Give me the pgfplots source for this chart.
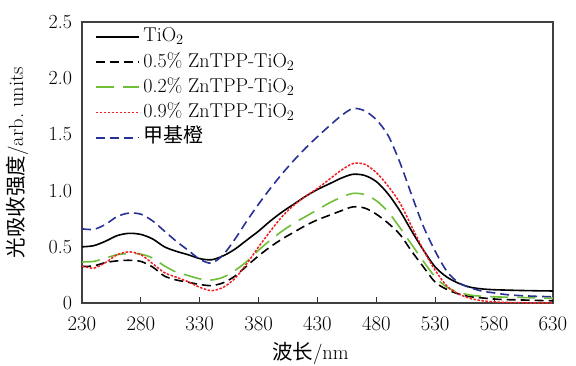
\documentclass[border=0pt]{standalone}
\usepackage{pgfplots}
\pgfplotsset{compat=1.18}
\usepackage{fontspec}
\newfontfamily\cjk{Noto Sans CJK SC}
\definecolor{cgreen}{RGB}{110,190,55}
\definecolor{cred}{RGB}{240,30,35}
\definecolor{cblue}{RGB}{40,50,150}
\begin{document}
\begin{tikzpicture}
\useasboundingbox (-82pt,-62pt) rectangle (494pt,303pt);
\begin{axis}[
  at={(0pt,0pt)}, anchor=south west,
  scale only axis, width=471pt, height=281pt,
  xmin=230, xmax=630, ymin=0, ymax=2.5,
  xtick={230,280,...,630},
  ytick={0,0.5,1,1.5,2,2.5},
  yticklabels={0,0.5,1.0,1.5,2.0,2.5},
  xtick pos=left, ytick pos=left,
  tick align=inside, major tick length=6pt,
  ytick style={draw=none},
  xtick style={black!80, line width=0.9pt},
  axis line style={black!75, line width=1.3pt},
  tick label style={font=\fontsize{20}{22}\selectfont},
  xticklabel style={yshift=-11pt},
  yticklabel style={xshift=-6.5pt},
  xlabel={{\cjk 波长}/nm},
  ylabel={{\cjk 光吸收强度}/arb.\ units},
  label style={font=\fontsize{20.5}{24}\selectfont},
  xlabel style={at={(axis description cs:0.485,-0.178)}, anchor=center},
  ylabel style={at={(axis description cs:-0.138,0.5)}, anchor=center},
  legend style={draw=none, fill=none, inner sep=0pt, at={(axis description cs:0,1)},
    anchor=north west, xshift=12.7pt, yshift=-2.0pt,
    font=\fontsize{20}{24}\selectfont, row sep=0pt,
    nodes={text height=14.3pt, text depth=4.3pt, inner sep=3.3pt}},
  legend cell align=left,
  legend image code/.code={\draw[#1, line width=1.8pt] (0pt,0pt) -- (40pt,0pt); \path (0pt,0pt) -- (43.5pt,0pt);},
]
\addplot[black, line width=1.6pt, smooth] coordinates {
(230,0.50)(240,0.51)(250,0.55)(260,0.60)(270,0.62)(280,0.61)(290,0.57)(300,0.50)(310,0.46)(320,0.43)(330,0.395)(340,0.385)(350,0.42)(360,0.48)(370,0.56)(380,0.64)(390,0.73)(400,0.81)(410,0.88)(420,0.95)(430,1.01)(440,1.06)(450,1.11)(460,1.145)(470,1.135)(480,1.08)(490,0.97)(500,0.82)(510,0.64)(520,0.47)(530,0.32)(540,0.23)(550,0.175)(560,0.14)(570,0.125)(580,0.118)(590,0.115)(600,0.112)(610,0.11)(620,0.108)(630,0.107)};
\addlegendentry{TiO$_2$}
\addplot[black, line width=1.6pt, dash pattern=on 9pt off 5pt, smooth] coordinates {
(230,0.325)(240,0.33)(250,0.36)(260,0.375)(270,0.38)(280,0.37)(290,0.32)(300,0.24)(310,0.205)(320,0.185)(330,0.165)(340,0.155)(350,0.18)(360,0.24)(370,0.33)(380,0.42)(390,0.50)(400,0.57)(410,0.63)(420,0.69)(430,0.74)(440,0.78)(450,0.82)(460,0.855)(470,0.845)(480,0.79)(490,0.71)(500,0.61)(510,0.46)(520,0.32)(530,0.185)(540,0.12)(550,0.08)(560,0.056)(570,0.045)(580,0.035)(590,0.03)(600,0.028)(610,0.025)(620,0.022)(630,0.02)};
\addlegendentry{0.5\% ZnTPP-TiO$_2$}
\addplot[cgreen, line width=1.6pt, dash pattern=on 18pt off 9pt, smooth] coordinates {
(230,0.365)(240,0.37)(250,0.40)(260,0.43)(270,0.44)(280,0.435)(290,0.40)(300,0.33)(310,0.275)(320,0.245)(330,0.215)(340,0.205)(350,0.23)(360,0.29)(370,0.37)(380,0.47)(390,0.56)(400,0.64)(410,0.71)(420,0.77)(430,0.83)(440,0.89)(450,0.94)(460,0.975)(470,0.965)(480,0.91)(490,0.81)(500,0.67)(510,0.52)(520,0.37)(530,0.23)(540,0.14)(550,0.095)(560,0.07)(570,0.06)(580,0.055)(590,0.052)(600,0.05)(610,0.047)(620,0.044)(630,0.042)};
\addlegendentry{0.2\% ZnTPP-TiO$_2$}
\addplot[cred, line width=1.5pt, dash pattern=on 2.5pt off 1.5pt, smooth] coordinates {
(230,0.33)(240,0.31)(250,0.36)(260,0.43)(270,0.455)(280,0.43)(290,0.35)(300,0.27)(310,0.23)(320,0.19)(330,0.14)(340,0.11)(350,0.14)(360,0.22)(370,0.35)(380,0.50)(390,0.64)(400,0.77)(410,0.87)(420,0.95)(430,1.02)(440,1.10)(450,1.18)(460,1.24)(470,1.235)(480,1.16)(490,1.04)(500,0.89)(510,0.68)(520,0.47)(530,0.29)(540,0.15)(550,0.08)(560,0.04)(570,0.02)(580,0.01)(590,0.005)(600,0.003)(610,0.002)(620,0.002)(630,0.002)};
\addlegendentry{0.9\% ZnTPP-TiO$_2$}
\addplot[cblue, line width=1.6pt, dash pattern=on 9pt off 5pt, smooth] coordinates {
(230,0.66)(240,0.655)(250,0.70)(260,0.77)(270,0.80)(280,0.79)(290,0.73)(300,0.64)(310,0.55)(320,0.47)(330,0.39)(340,0.355)(350,0.43)(360,0.57)(370,0.73)(380,0.88)(390,1.02)(400,1.15)(410,1.27)(420,1.38)(430,1.48)(440,1.575)(450,1.665)(460,1.73)(470,1.71)(480,1.63)(490,1.49)(500,1.25)(510,0.96)(520,0.68)(530,0.46)(540,0.28)(550,0.18)(560,0.135)(570,0.105)(580,0.09)(590,0.075)(600,0.067)(610,0.062)(620,0.058)(630,0.056)};
\addlegendentry{{\cjk 甲基橙}}
\end{axis}
\end{tikzpicture}
\end{document}
